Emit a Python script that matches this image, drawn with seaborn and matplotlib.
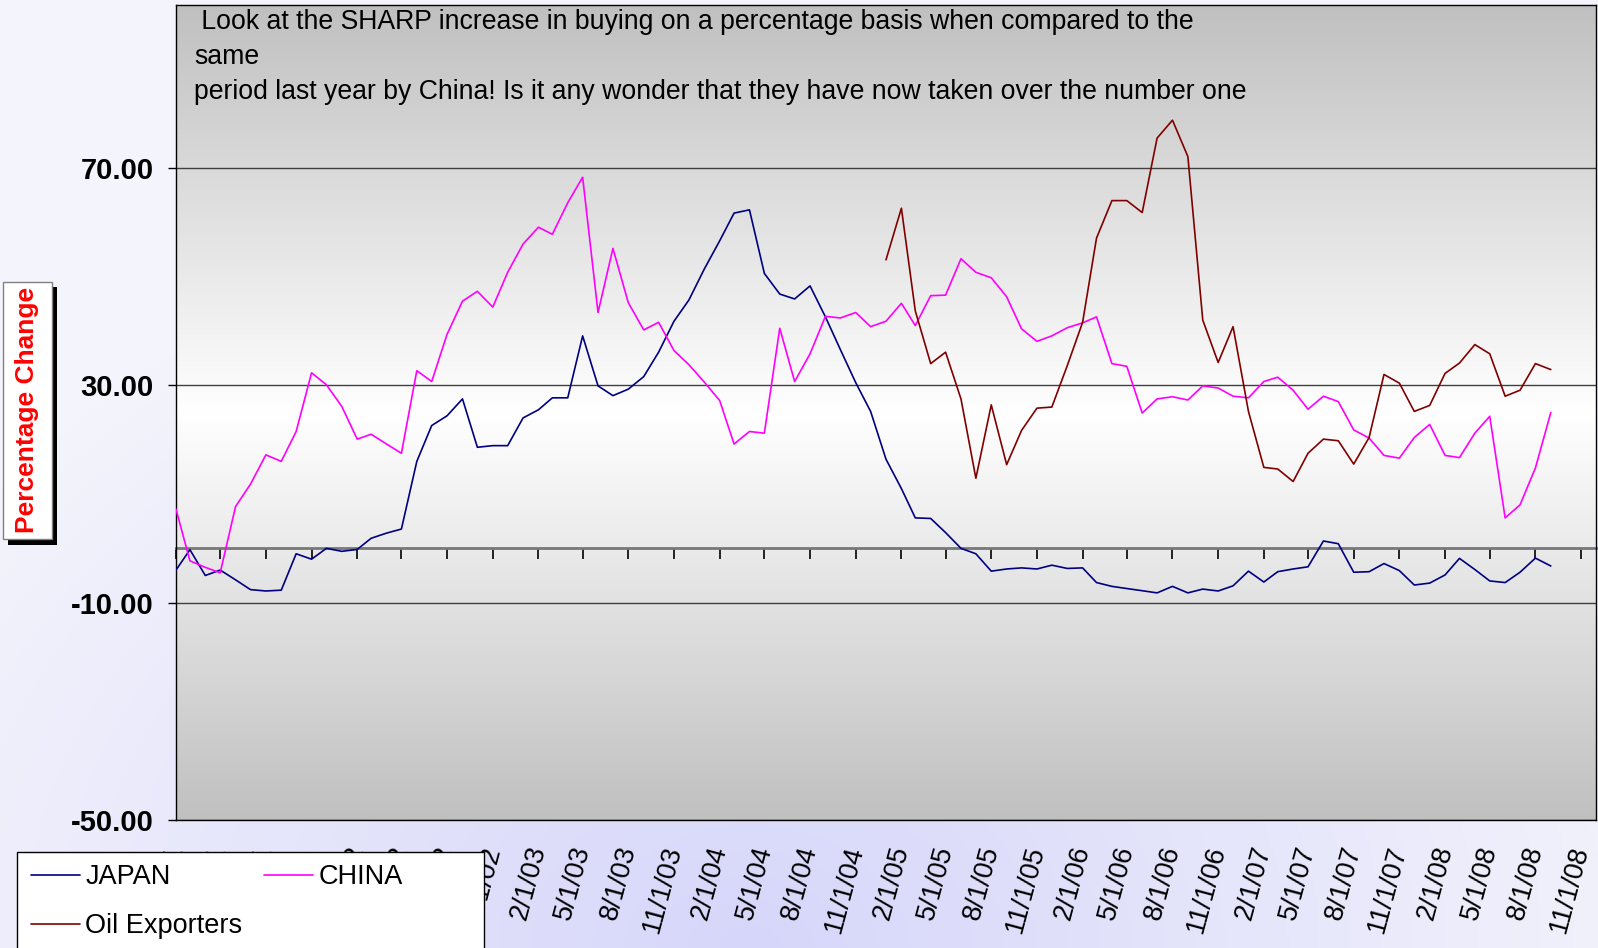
import matplotlib
matplotlib.use('Agg')
import matplotlib.pyplot as plt
import matplotlib.dates as mdates
from matplotlib.patches import Rectangle
import numpy as np
import pandas as pd
import seaborn as sns

# monthly series, Feb 2001 .. Sep 2008 (percentage change vs same month last year)
months = pd.date_range('2001-02-01', periods=92, freq='MS')

japan = [-4.0, -0.25, -5.0, -4.0, -5.8, -7.6, -7.85, -7.7, -1.0, -2.0,
         0.0, -0.55, -0.2, 1.85, 2.8, 3.55, 16.0, 22.6, 24.4, 27.5,
         18.6, 18.9, 18.9, 24.0, 25.5, 27.7, 27.7, 39.1, 29.9, 28.1,
         29.3, 31.6, 36.1, 41.8, 45.7, 51.4, 56.6, 61.7, 62.3, 50.6,
         46.8, 45.9, 48.3, 42.6, 36.6, 30.5, 25.2, 16.4, 11.0, 5.6,
         5.5, 2.9, 0.0, -1.0, -4.2, -3.8, -3.6, -3.8, -3.1, -3.7,
         -3.6, -6.3, -7.0, -7.4, -7.8, -8.2, -7.0, -8.2, -7.5, -7.85,
         -6.9, -4.2, -6.2, -4.3, -3.8, -3.4, 1.35, 0.85, -4.4, -4.3,
         -2.8, -4.1, -6.75, -6.4, -4.9, -1.85, -3.9, -6.0, -6.3, -4.4,
         -1.8, -3.25]

china = [7.2, -2.3, -3.5, -4.5, 7.7, 11.8, 17.2, 16.0, 21.5, 32.3,
         30.1, 26.1, 20.1, 21.0, 19.2, 17.5, 32.7, 30.7, 39.4, 45.5,
         47.3, 44.4, 50.8, 56.0, 59.1, 57.8, 63.6, 68.3, 43.4, 55.2,
         45.2, 40.2, 41.6, 36.4, 33.8, 30.6, 27.2, 19.2, 21.5, 21.2,
         40.5, 30.7, 35.8, 42.7, 42.4, 43.4, 40.8, 41.8, 45.1, 41.0,
         46.5, 46.6, 53.3, 50.8, 49.8, 46.3, 40.4, 38.1, 39.1, 40.6,
         41.5, 42.6, 34.0, 33.5, 24.9, 27.5, 27.9, 27.3, 29.9, 29.5,
         28.0, 27.7, 30.7, 31.5, 29.1, 25.6, 28.0, 27.0, 21.8, 20.3,
         17.1, 16.6, 20.4, 22.8, 17.1, 16.7, 21.2, 24.3, 5.6, 8.0,
         14.8, 25.0]

# oil exporters start in Jan 2005
oil_months = pd.date_range('2005-01-01', periods=45, freq='MS')
oil = [53.1, 62.6, 43.7, 34.0, 36.1, 27.5, 12.9, 26.4, 15.4, 21.7,
       25.8, 26.0, 33.6, 41.6, 57.1, 64.0, 64.0, 61.8, 75.5, 78.8,
       72.1, 42.0, 34.2, 40.8, 25.2, 14.9, 14.6, 12.3, 17.5, 20.1,
       19.8, 15.5, 20.4, 32.0, 30.4, 25.2, 26.3, 32.2, 34.1, 37.5,
       35.8, 28.0, 29.1, 34.0, 32.9]

tick_dates = pd.date_range('2001-02-01', '2008-11-01', freq='3MS')
tick_labels = [f"{d.month}/{d.day}/{d:%y}" for d in tick_dates]
yticks = [-50, -10, 30, 70]

title = (" Look at the SHARP increase in buying on a percentage basis when compared to the\n"
         "same\n"
         "period last year by China! Is it any wonder that they have now taken over the number one")

W, H = 1598, 948
def fx(px):
    return px / W
def fy(py):
    return 1 - py / H

sns.set_theme(style='white')
plt.rcParams['font.family'] = ['Liberation Sans', 'DejaVu Sans']
plt.rcParams['text.color'] = 'black'
plt.rcParams['xtick.color'] = 'black'
plt.rcParams['ytick.color'] = 'black'
plt.rcParams['axes.labelcolor'] = 'black'

fig = plt.figure(figsize=(W / 100, H / 100), dpi=100)

# lavender page background
bg = fig.add_axes([0, 0, 1, 1], zorder=-10)
yy, xx = np.mgrid[0:H:4, 0:W:4]
r = np.clip(np.sqrt(((xx - 750) / 950) ** 2 + ((yy - 948) / 750) ** 2), 0, 1)
inner = np.array([214, 214, 250]) / 255
outer = np.array([244, 244, 252]) / 255
bg.imshow(inner + (outer - inner) * r[..., None], extent=[0, W, H, 0], aspect='auto')
bg.axis('off')

# plot area with grey-white-grey gradient behind it
rect = [fx(176), fy(820), (1596 - 176) / W, (820 - 5) / H]
gax = fig.add_axes(rect, zorder=-5)
s = np.linspace(0, 1, 400)
g = (192 + 63 * (1 - np.abs(s - 0.5) * 2)) / 255
gax.imshow(np.repeat(g[:, None, None], 3, axis=2), extent=[0, 1, 0, 1], aspect='auto')
gax.axis('off')

ax = fig.add_axes(rect)
ax.set_facecolor('none')

df = pd.concat([
    pd.DataFrame({'date': months, 'value': japan, 'series': 'JAPAN'}),
    pd.DataFrame({'date': months, 'value': china, 'series': 'CHINA'}),
    pd.DataFrame({'date': oil_months, 'value': oil, 'series': 'Oil Exporters'}),
])
palette = {'JAPAN': '#000080', 'CHINA': '#ff00ff', 'Oil Exporters': '#800000'}
sns.lineplot(data=df, x='date', y='value', hue='series', palette=palette,
             estimator=None, lw=1.2, ax=ax, zorder=3)
handles, labels = ax.get_legend_handles_labels()
ax.get_legend().remove()

ax.set_xlim(pd.Timestamp('2001-02-01'), pd.Timestamp('2008-12-01'))
ax.set_ylim(-50, 100)
ax.set_xlabel('')
ax.set_ylabel('')

ax.set_yticks(yticks)
ax.set_yticklabels([f"{v:.2f}" for v in yticks], fontweight='bold', fontsize=21)
ax.tick_params(axis='y', left=True, direction='out', length=6, width=1, color='black', pad=10)
ax.yaxis.grid(True, color='#404040', lw=1)
ax.xaxis.grid(False)
ax.set_axisbelow(True)

ax.set_xticks(tick_dates)
ax.set_xticklabels(tick_labels, rotation=75, ha='right', va='center',
                   rotation_mode='anchor', fontsize=19.5)
ax.tick_params(axis='x', bottom=True, length=0, pad=19)

for sp in ax.spines.values():
    sp.set_color('black')
    sp.set_linewidth(1)

# category axis crossing at zero, with its tick marks
sec = ax.secondary_xaxis(50 / 150)
sec.set_xticks(mdates.date2num(tick_dates))
sec.tick_params(axis='x', bottom=True, top=False, direction='out', length=8, width=1.2,
                color='black', labelbottom=False, labeltop=False)
for name in ('bottom', 'top'):
    sec.spines[name].set_color('#777777')
    sec.spines[name].set_linewidth(2)

# title text inside the plot area
fig.text(fx(194), fy(9), title, fontsize=19.2, va='top', ha='left', linespacing=1.44,
         color='black')

# y label in a white box with a black shadow
fig.add_artist(Rectangle((fx(8), fy(545)), 49 / W, 258 / H, transform=fig.transFigure,
                         facecolor='black', edgecolor='none', zorder=1))
fig.add_artist(Rectangle((fx(3), fy(539)), 49 / W, 257 / H, transform=fig.transFigure,
                         facecolor='white', edgecolor='#808080', lw=1, zorder=2))
fig.text(fx(27), fy(410), 'Percentage Change', rotation=90, color='red',
         fontweight='bold', fontsize=19, ha='center', va='center', zorder=3)

# legend box
fig.add_artist(Rectangle((fx(17), fy(952)), 467 / W, 100 / H, transform=fig.transFigure,
                         facecolor='white', edgecolor='black', lw=1, zorder=5))
order = [labels.index('JAPAN'), labels.index('Oil Exporters'), labels.index('CHINA')]
leg = fig.legend([handles[i] for i in order], [labels[i] for i in order], ncol=2,
                 loc='upper left', bbox_to_anchor=(fx(31), fy(864)), frameon=False,
                 fontsize=19.5, handlelength=1.8, handletextpad=0.2, columnspacing=0.8,
                 labelspacing=0.85, borderpad=0, borderaxespad=0)
leg.set_zorder(6)

fig.savefig('out.png', dpi=100)
